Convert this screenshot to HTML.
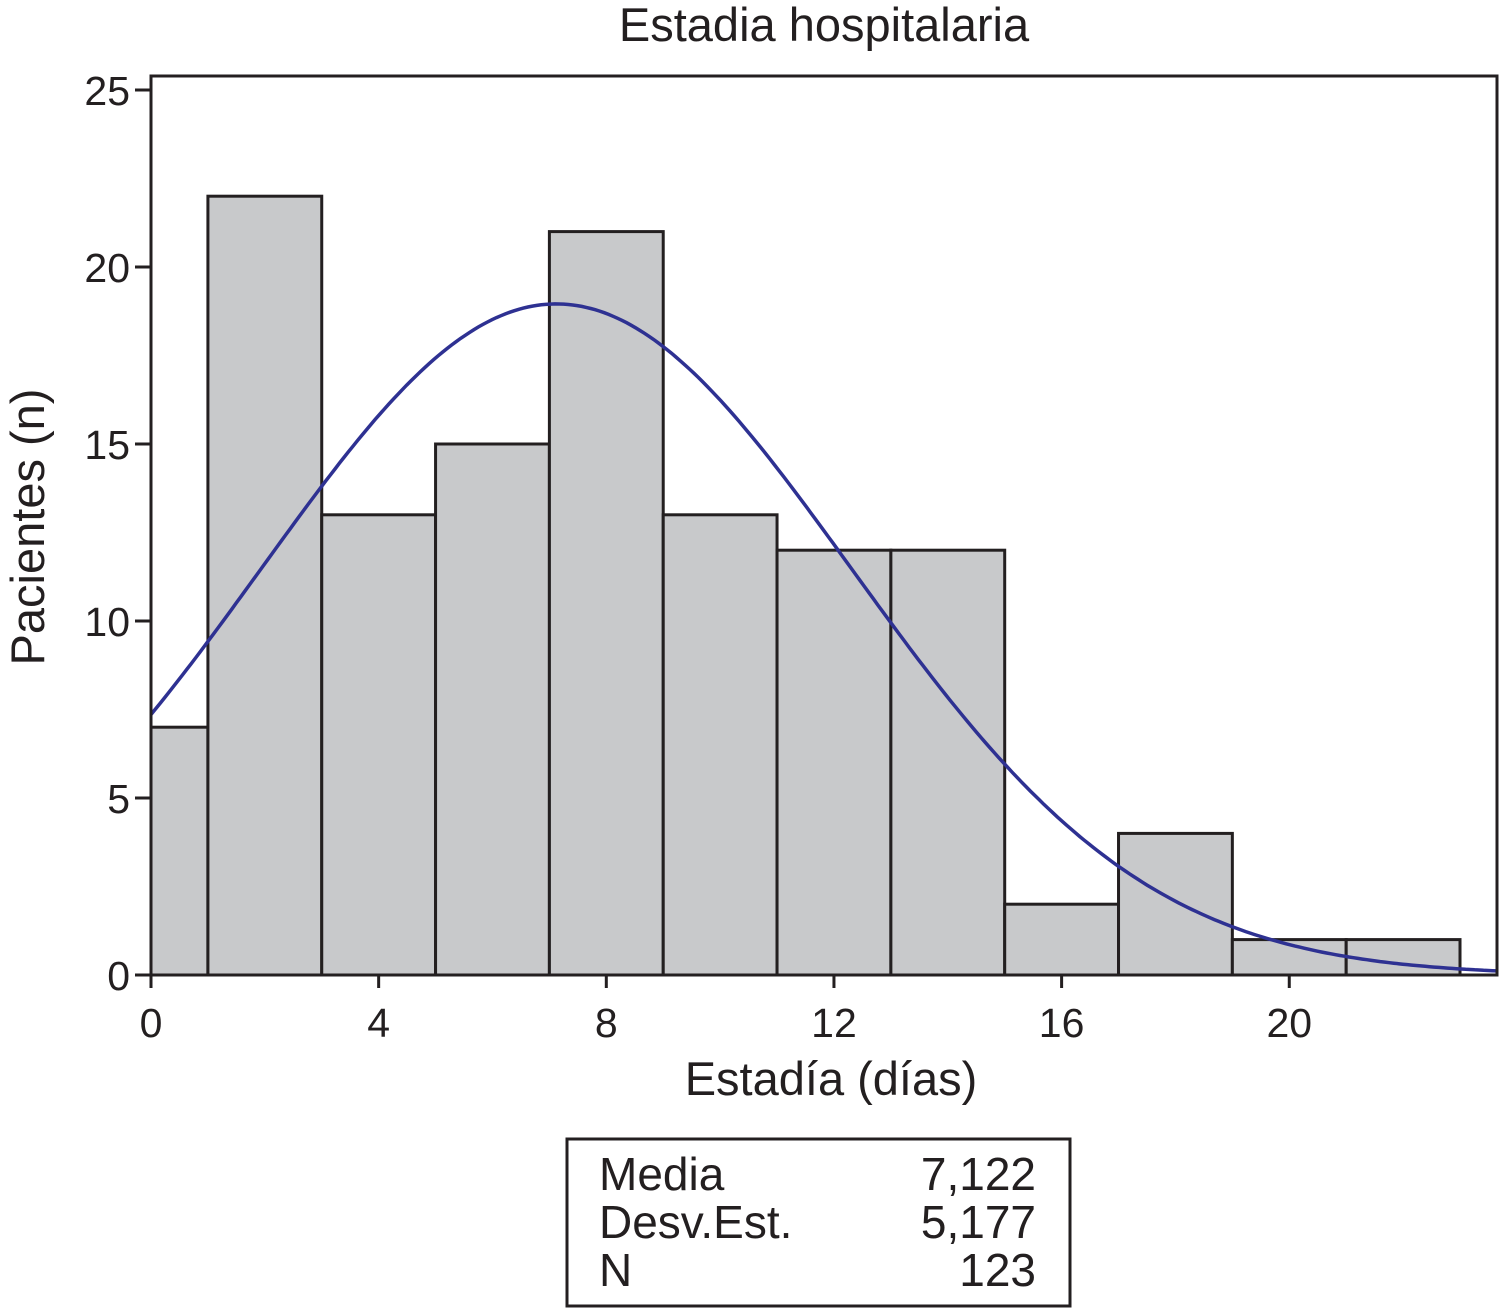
<!DOCTYPE html>
<html><head><meta charset="utf-8"><style>
body{margin:0;background:#fff;}
svg text{font-family:"Liberation Sans",Arial,sans-serif;fill:#231f20;}
</style></head><body>
<svg id="chart" width="1500" height="1308" viewBox="0 0 1500 1308" xmlns="http://www.w3.org/2000/svg">
<text x="824" y="41" font-size="47" text-anchor="middle">Estadia hospitalaria</text>
<g id="bars"></g>
<path id="curve" fill="none" stroke="#2e3192" stroke-width="3.5"/>
<rect x="151" y="76" width="1346" height="899" fill="none" stroke="#231f20" stroke-width="3"/>
<g id="axes"></g>
<text x="831" y="1095" font-size="47" text-anchor="middle">Estadía (días)</text>
<text transform="translate(44,527) rotate(-90)" font-size="47" text-anchor="middle">Pacientes (n)</text>
<g>
<rect x="567" y="1139" width="503" height="167" fill="#fff" stroke="#231f20" stroke-width="3"/>
<text x="599" y="1190" font-size="46">Media</text><text x="1036" y="1190" font-size="46" text-anchor="end">7,122</text>
<text x="599" y="1238" font-size="46">Desv.Est.</text><text x="1036" y="1238" font-size="46" text-anchor="end">5,177</text>
<text x="599" y="1286" font-size="46">N</text><text x="1036" y="1286" font-size="46" text-anchor="end">123</text>
</g>
</svg>
<script>
const binStarts=[0,1,3,5,7,9,11,13,15,17,19,21];
const binEnds=[1,3,5,7,9,11,13,15,17,19,21,23];
const counts=[7,22,13,15,21,13,12,12,2,4,1,1];
const xTicks=[0,4,8,12,16,20];
const yTicks=[0,5,10,15,20,25];
const mean=7.122, sd=5.177, n=123, binWidth=2;
const xMax=23.65;
const X=v=>151+v*(1497-151)/xMax;
const Y=v=>975-v*(975-90)/25;
const ns="http://www.w3.org/2000/svg";
const bars=document.getElementById('bars');
counts.forEach((c,i)=>{
  const r=document.createElementNS(ns,'rect');
  
  
  r.setAttribute('x',X(binStarts[i]));r.setAttribute('y',Y(c));
  r.setAttribute('width',X(binEnds[i])-X(binStarts[i]));r.setAttribute('height',Y(0)-Y(c));
  r.setAttribute('fill','#c8c9cb');r.setAttribute('stroke','#231f20');r.setAttribute('stroke-width','3');
  bars.appendChild(r);
});
let d='';
for(let k=0;k<=300;k++){const x=xMax*k/300;const y=n*binWidth/(sd*Math.sqrt(2*Math.PI))*Math.exp(-((x-mean)**2)/(2*sd*sd));d+=(k?'L':'M')+X(x).toFixed(1)+' '+Y(y).toFixed(1);}
document.getElementById('curve').setAttribute('d',d);
const axes=document.getElementById('axes');
xTicks.forEach(t=>{
  const l=document.createElementNS(ns,'line');
  
  
  l.setAttribute('x1',X(t));l.setAttribute('x2',X(t));l.setAttribute('y1',975);l.setAttribute('y2',988);l.setAttribute('stroke','#231f20');l.setAttribute('stroke-width','3');axes.appendChild(l);
  const tx=document.createElementNS(ns,'text');
  
  
  tx.setAttribute('x',X(t));tx.setAttribute('y',1037);tx.setAttribute('font-size','41');tx.setAttribute('text-anchor','middle');tx.textContent=t;axes.appendChild(tx);
});
yTicks.forEach(t=>{
  const l=document.createElementNS(ns,'line');
  
  
  l.setAttribute('x1',135);l.setAttribute('x2',151);l.setAttribute('y1',Y(t));l.setAttribute('y2',Y(t));l.setAttribute('stroke','#231f20');l.setAttribute('stroke-width','3');axes.appendChild(l);
  const tx=document.createElementNS(ns,'text');
  
  
  tx.setAttribute('x',130);tx.setAttribute('y',Y(t)+15);tx.setAttribute('font-size','41');tx.setAttribute('text-anchor','end');tx.textContent=t;axes.appendChild(tx);
});
</script>
</body></html>
